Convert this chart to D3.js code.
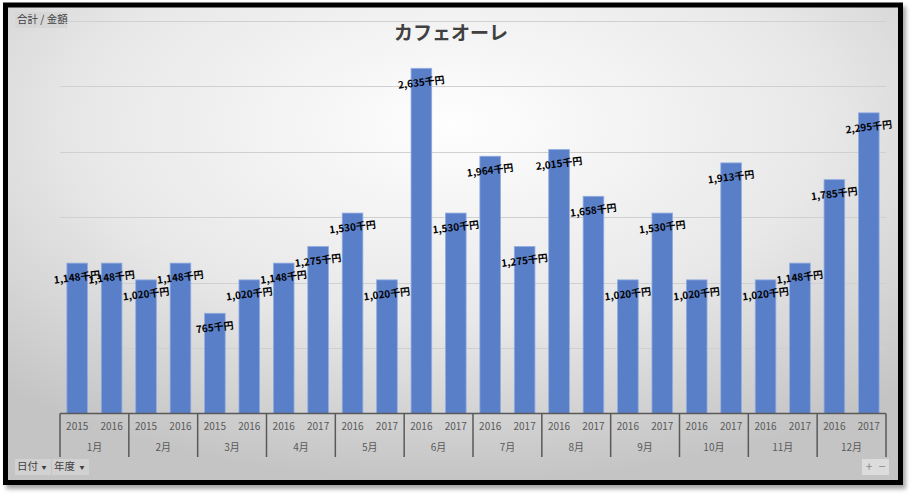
<!DOCTYPE html>
<html>
<head>
<meta charset="utf-8">
<script src="https://cdn.jsdelivr.net/npm/d3@7"></script>
<style>
  html, body { margin: 0; padding: 0; background: #ffffff; }
  svg { display: block; font-family: "Noto Sans CJK JP", "Noto Sans", sans-serif; }
</style>
</head>
<body>
<svg id="chart" width="911" height="495"></svg>
<script>
// データ
const months = ["1月", "2月", "3月", "4月", "5月", "6月", "7月", "8月", "9月", "10月", "11月", "12月"];
const years = [
  "2015", "2016", "2015", "2016", "2015", "2016", "2016", "2017", "2016", "2017", "2016", "2017",
  "2016", "2017", "2016", "2017", "2016", "2017", "2016", "2017", "2016", "2017", "2016", "2017"
];
const amounts = [
  1148, 1148, 1020, 1148, 765, 1020, 1148, 1275, 1530, 1020, 2635, 1530,
  1964, 1275, 2015, 1658, 1020, 1530, 1020, 1913, 1020, 1148, 1785, 2295
];
const yTicks = [0, 500, 1000, 1500, 2000, 2500, 3000];

const svg = d3.select("#chart");
const defs = svg.append("defs");

// 背景のグラデーション
const grad = defs.append("radialGradient")
  .attr("id", "bg")
  .attr("cx", "0.5").attr("cy", "0.25").attr("r", "0.75");
grad.append("stop").attr("offset", "0").attr("stop-color", "#fefefe");
grad.append("stop").attr("offset", "0.55").attr("stop-color", "#e8e8e8");
grad.append("stop").attr("offset", "1").attr("stop-color", "#c4c4c4");

const shadow = defs.append("filter").attr("id", "shadow")
  .attr("x", "-5%").attr("y", "-5%").attr("width", "110%").attr("height", "110%");
shadow.append("feDropShadow")
  .attr("dx", 3).attr("dy", 4).attr("stdDeviation", 2)
  .attr("flood-color", "#000").attr("flood-opacity", 0.35);

// 枠
svg.append("rect")
  .attr("x", 5.5).attr("y", 5).attr("width", 895).attr("height", 477.5)
  .attr("fill", "url(#bg)")
  .attr("stroke", "#000").attr("stroke-width", 5)
  .attr("filter", "url(#shadow)");

const plotLeft = 60, plotRight = 886, plotTop = 20.5, plotBottom = 413.5;

const x = d3.scaleBand()
  .domain(d3.range(amounts.length))
  .range([plotLeft, plotRight])
  .paddingInner(0.4)
  .paddingOuter(0.2);

const y = d3.scaleLinear()
  .domain([0, 3000])
  .range([plotBottom, plotTop]);

// グリッド線
svg.append("g")
  .selectAll("line")
  .data(yTicks.slice(1))
  .enter()
  .append("line")
  .attr("x1", plotLeft).attr("x2", plotRight)
  .attr("y1", d => Math.round(y(d)) + 0.5)
  .attr("y2", d => Math.round(y(d)) + 0.5)
  .attr("stroke", "#d0d0d0")
  .attr("stroke-width", 1);

// タイトル
svg.append("text")
  .attr("x", 451).attr("y", 35)
  .attr("text-anchor", "middle")
  .attr("dominant-baseline", "middle")
  .attr("font-size", 19)
  .attr("font-weight", "bold")
  .attr("fill", "#404040")
  .text("カフェオーレ");

// 棒
svg.append("g")
  .selectAll("rect")
  .data(amounts)
  .enter()
  .append("rect")
  .attr("x", (d, i) => x(i))
  .attr("y", d => y(d))
  .attr("width", x.bandwidth())
  .attr("height", d => plotBottom - y(d))
  .attr("fill", "#5a7fc9")
  .attr("stroke", "#93ade2")
  .attr("stroke-width", 0.8);

// データラベル
svg.append("g")
  .selectAll("text")
  .data(amounts)
  .enter()
  .append("text")
  .attr("transform", (d, i) => `translate(${x(i) + x.bandwidth() / 2},${y(d) + 15}) rotate(-7)`)
  .attr("text-anchor", "middle")
  .attr("dominant-baseline", "middle")
  .attr("font-size", 10)
  .attr("font-weight", "bold")
  .attr("fill", "#000")
  .text(d => d3.format(",")(d) + "千円");

// 軸
const axis = svg.append("g").attr("stroke", "#595959").attr("stroke-width", 1.5);
axis.append("line")
  .attr("x1", plotLeft).attr("x2", plotRight)
  .attr("y1", plotBottom).attr("y2", plotBottom);
axis.selectAll(".sep")
  .data(d3.range(months.length + 1))
  .enter()
  .append("line")
  .attr("class", "sep")
  .attr("x1", k => plotLeft + k * 2 * x.step())
  .attr("x2", k => plotLeft + k * 2 * x.step())
  .attr("y1", plotBottom)
  .attr("y2", 457);

svg.append("g")
  .selectAll("text")
  .data(years)
  .enter()
  .append("text")
  .attr("x", (d, i) => x(i) + x.bandwidth() / 2)
  .attr("y", 427)
  .attr("text-anchor", "middle")
  .attr("dominant-baseline", "middle")
  .attr("font-size", 10)
  .attr("fill", "#595959")
  .text(d => d);

svg.append("g")
  .selectAll("text")
  .data(months)
  .enter()
  .append("text")
  .attr("x", (d, k) => plotLeft + (k * 2 + 1) * x.step())
  .attr("y", 448)
  .attr("text-anchor", "middle")
  .attr("dominant-baseline", "middle")
  .attr("font-size", 10)
  .attr("fill", "#595959")
  .text(d => d);

// フィールドボタン
function button(bx, by, w, label, arrow) {
  svg.append("rect")
    .attr("x", bx).attr("y", by).attr("width", w).attr("height", 16)
    .attr("fill", "#d4d4d4").attr("opacity", 0.8);
  svg.append("text")
    .attr("x", bx + 2).attr("y", by + 8.5)
    .attr("dominant-baseline", "middle")
    .attr("font-size", 10.5)
    .attr("fill", "#404040")
    .text(label);
  if (arrow) {
    svg.append("text")
      .attr("x", bx + w - 7).attr("y", by + 8.5)
      .attr("text-anchor", "middle")
      .attr("dominant-baseline", "middle")
      .attr("font-size", 5)
      .attr("fill", "#404040")
      .text("▼");
  }
}
button(15, 12, 52, "合計 / 金額", false);
button(15, 459, 36, "日付", true);
button(52, 459, 37, "年度", true);

svg.append("rect")
  .attr("x", 862).attr("y", 459).attr("width", 27).attr("height", 16)
  .attr("fill", "#e2e2e2").attr("opacity", 0.8);
svg.append("text")
  .attr("x", 869).attr("y", 467.5)
  .attr("text-anchor", "middle")
  .attr("dominant-baseline", "middle")
  .attr("font-size", 12)
  .attr("fill", "#8c8c8c")
  .text("+");
svg.append("text")
  .attr("x", 882).attr("y", 467.5)
  .attr("text-anchor", "middle")
  .attr("dominant-baseline", "middle")
  .attr("font-size", 12)
  .attr("fill", "#8c8c8c")
  .text("−");
</script>
</body>
</html>
